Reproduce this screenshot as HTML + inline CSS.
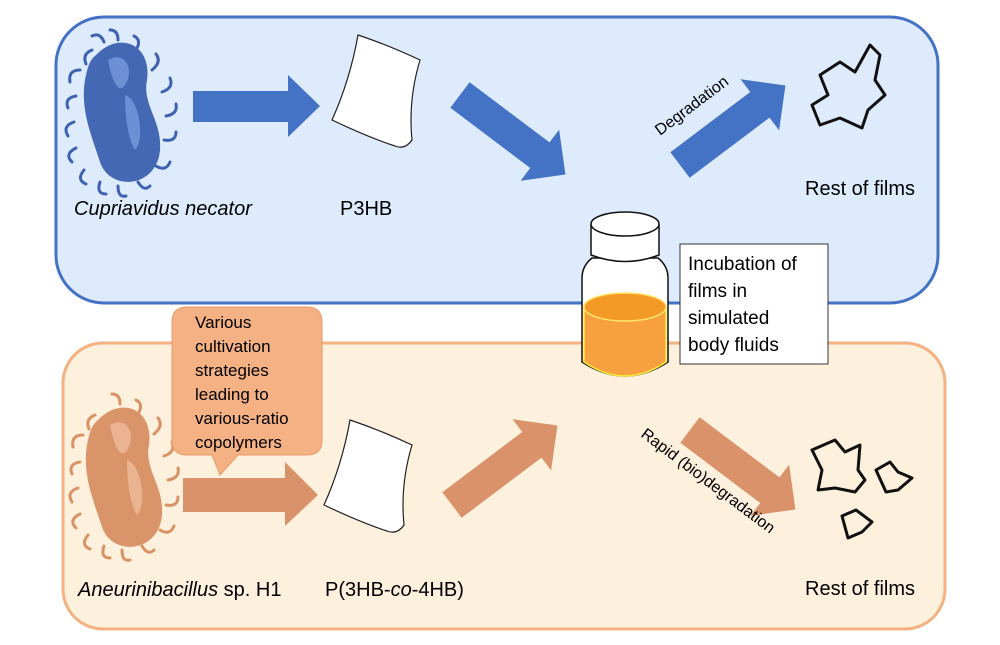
<!DOCTYPE html>
<html><head><style>body{margin:0;background:#fff}svg{display:block}text{font-family:"Liberation Sans",sans-serif;fill:#000}</style></head><body>
<svg width="1000" height="645" viewBox="0 0 1000 645">
<rect x="56" y="17" width="882" height="286" rx="48" fill="#deebfc" stroke="#4472c4" stroke-width="3"/>
<rect x="63" y="343" width="882" height="286" rx="40" fill="#fdf0dc" stroke="#f4b183" stroke-width="3"/>
<!-- top bacterium -->
<g stroke="#3f62b0" stroke-width="3" fill="none" stroke-linecap="round">
<path d="M92 50q-10 4-6 14M80 70q-12 0-10 12M76 96q-12 2-8 12M74 122q-12 4-6 14M76 148q-12 6-4 14M84 170q-8 10 2 14M100 182q-4 12 6 12M118 186q0 12 8 10M138 182q6 10 12 4M156 166q10 6 14-4M164 140q12 2 12-8M166 116q12-2 10-12M162 92q12-4 8-14M152 70q10-8 4-16M136 50q6-10-2-14M118 40q0-10-8-10M104 42q-4-10-12-6"/>
</g>
<path d="M96 55 C120 30 152 45 147 80 C142 105 162 120 160 150 C157 188 110 192 100 162 C92 137 80 110 85 80 C88 65 90 60 96 55Z" fill="#4468b4"/>
<path d="M108 60 C125 50 135 70 125 85 C118 95 112 80 108 60Z M125 95 C140 100 145 140 135 150 C128 140 125 115 125 95Z" fill="#6d8fd6"/>
<!-- bottom bacterium -->
<g stroke="#d99266" stroke-width="3" fill="none" stroke-linecap="round">
<path d="M95 415q-10 4-6 14M83 435q-12 0-10 12M80 462q-12 2-8 12M78 488q-12 4-6 14M80 514q-12 6-4 14M88 535q-8 10 2 14M104 546q-4 12 6 12M122 550q0 12 8 10M142 546q6 10 12 4M160 530q10 6 14-4M166 505q12 2 12-8M168 480q12-2 10-12M164 456q12-4 8-14M154 434q10-8 4-16M138 414q6-10-2-14M120 404q0-10-8-10"/>
</g>
<path d="M98 420 C122 395 154 410 149 445 C144 470 164 485 162 515 C159 553 112 557 102 527 C94 502 82 475 87 445 C90 430 92 425 98 420Z" fill="#d9946a"/>
<path d="M110 425 C127 415 137 435 127 450 C120 460 114 445 110 425Z M127 460 C142 465 147 505 137 515 C130 505 127 480 127 460Z" fill="#eab491"/>
<!-- arrows -->
<path d="M193 91H288V75L320 106L288 137V122H193Z" fill="#4472c4"/>
<path d="M183 478H285V462L318 495L285 526V512H183Z" fill="#d9926a"/>
<g fill="#4472c4">
<path transform="translate(460,95) rotate(37)" d="M0 -16H100V-32L132 0L100 32V16H0Z"/>
<path transform="translate(680,165) rotate(-37)" d="M0 -16H100V-32L132 0L100 32V16H0Z"/>
</g>
<g fill="#d9926a">
<path transform="translate(452,505) rotate(-37)" d="M0 -16H100V-32L132 0L100 32V16H0Z"/>
<path transform="translate(690,430) rotate(37)" d="M0 -16H100V-32L132 0L100 32V16H0Z"/>
</g>
<!-- papers -->
<path d="M358 35 Q388 45 420 60 Q408 100 412 140 Q405 150 395 146 Q370 138 332 120 Q350 80 358 35Z" fill="#fff" stroke="#222" stroke-width="1.2"/>
<path d="M350 420 Q380 430 412 445 Q400 485 404 525 Q397 535 387 531 Q362 523 324 505 Q342 465 350 420Z" fill="#fff" stroke="#222" stroke-width="1.2"/>
<!-- rest of films shapes -->
<g fill="none" stroke="#111" stroke-width="3" stroke-linejoin="round">
<path d="M820 75 L840 62 L855 72 L870 45 L880 55 L875 80 L885 95 L868 110 L862 128 L840 118 L820 125 L812 105 L828 95 Z"/>
<path d="M812 450 L835 440 L845 452 L860 445 L858 470 L865 480 L855 492 L835 488 L818 490 L822 470 Z"/>
<path d="M876 470 L890 462 L898 472 L912 478 L898 490 L886 492 Z"/>
<path d="M842 516 L856 510 L872 522 L862 532 L848 538 Z"/>
</g>
<!-- jar -->
<path d="M592 258 Q582 266 582 278 V362 Q625 390 668 362 V278 Q668 266 658 258Z" fill="#fff" stroke="#111" stroke-width="1.5"/>
<path d="M584 306 Q625 286 666 306 V362 Q625 390 584 362Z" fill="#f7a040" stroke="#ffeb3b" stroke-width="1.5"/>
<ellipse cx="625" cy="307" rx="41" ry="14" fill="#f39a26" stroke="#ffe56a" stroke-width="1.5"/>
<path d="M591 224 V255 Q625 268 659 255 V224" fill="#fff" stroke="#111" stroke-width="1.5"/>
<ellipse cx="625" cy="224" rx="34" ry="12" fill="#fff" stroke="#111" stroke-width="1.5"/>
<rect x="680" y="244" width="148" height="120" fill="#fff" stroke="#333" stroke-width="1"/>
<g font-size="19"><text x="688" y="270">Incubation of</text><text x="688" y="297">films in</text><text x="688" y="324">simulated</text><text x="688" y="351">body fluids</text></g>
<!-- callout -->
<path d="M187 307H307Q322 307 322 322V440Q322 455 307 455H238L220 475L212 455H187Q172 455 172 440V322Q172 307 187 307Z" fill="#f4b183" stroke="#e99a6a" stroke-width="1"/>
<g font-size="17"><text x="195" y="328">Various</text><text x="195" y="352">cultivation</text><text x="195" y="376">strategies</text><text x="195" y="400">leading to</text><text x="195" y="424">various-ratio</text><text x="195" y="448">copolymers</text></g>
<!-- labels -->
<g font-size="20">
<text x="74" y="215" font-style="italic">Cupriavidus necator</text>
<text x="340" y="215">P3HB</text>
<text x="805" y="195">Rest of films</text>
<text x="78" y="596"><tspan font-style="italic">Aneurinibacillus</tspan> sp. H1</text>
<text x="325" y="596">P(3HB-<tspan font-style="italic">co</tspan>-4HB)</text>
<text x="805" y="595">Rest of films</text>
</g>
<text x="660" y="136" font-size="16" transform="rotate(-37 660 136)">Degradation</text>
<text x="640" y="436" font-size="16" transform="rotate(37 640 436)">Rapid (bio)degradation</text>
</svg>
</body></html>
